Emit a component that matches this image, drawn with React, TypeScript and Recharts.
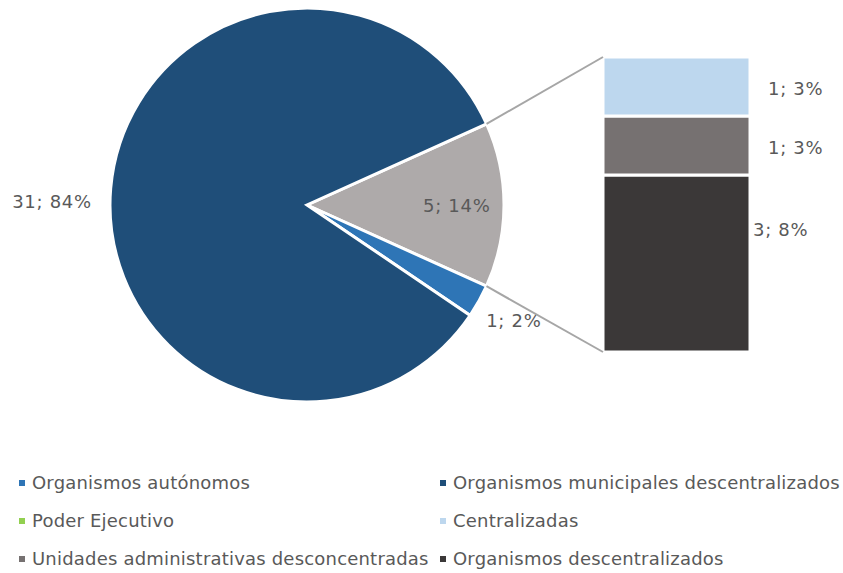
import React from 'react';
import { PieChart, Pie, Cell, BarChart, Bar, XAxis, YAxis, LabelList } from 'recharts';

// Pie (main) data
const pieNames = ['Otros', 'Organismos autónomos', 'Organismos municipales descentralizados'];
const pieValues = [5, 1, 31];
const pieLabels = ['5; 14%', '1; 2%', '31; 84%'];
const pieColors = ['#AEAAAA', '#2E75B6', '#1F4E79'];

// Bar (breakdown of "Otros") data, bottom to top
const barNames = ['Organismos descentralizados', 'Unidades administrativas desconcentradas', 'Centralizadas'];
const barValues = [3, 1, 1];
const barLabels = ['3; 8%', '1; 3%', '1; 3%'];
const barColors = ['#3B3838', '#767171', '#BDD7EE'];

// Legend
const legendNames = [
  'Organismos autónomos',
  'Organismos municipales descentralizados',
  'Poder Ejecutivo',
  'Centralizadas',
  'Unidades administrativas desconcentradas',
  'Organismos descentralizados',
];
const legendColors = ['#2E75B6', '#1F4E79', '#92D050', '#BDD7EE', '#767171', '#3B3838'];

const W = 843;
const CH = 430;
const CX = 307;
const CY = 205;
const R = 197;
const START = 24.3;
const FONT = "'DejaVu Sans', Verdana, sans-serif";
const TXT = '#595959';
const RAD = Math.PI / 180;
const FS = 18;
const LS = 0.7;

const pieData = pieNames.map((n, i) => ({ name: n, value: pieValues[i], label: pieLabels[i] }));
const barRow: Record<string, any> = { name: 'Otros' };
barNames.forEach((n, i) => { barRow['v' + i] = barValues[i]; });
const barData = [barRow];

const total = pieValues.reduce((a, b) => a + b, 0);
const otherSweep = (pieValues[0] / total) * 360;

const piePoint = (angle: number) => ({
  x: CX + R * Math.cos(angle * RAD),
  y: CY - R * Math.sin(angle * RAD),
});

const renderPieLabel = (p: any) => {
  const { cx, cy, midAngle, outerRadius, index } = p;
  const c = Math.cos(midAngle * RAD);
  const s = Math.sin(midAngle * RAD);
  let x: number, y: number, anchor: any = 'middle';
  if (index === 0) {
    x = cx + outerRadius * 0.76 * c;
    y = cy - outerRadius * 0.76 * s;
  } else if (Math.abs(c) > 0.9) {
    x = cx + (outerRadius + 19) * c;
    y = cy - 4;
    anchor = c < 0 ? 'end' : 'start';
  } else {
    x = cx + (outerRadius + 40) * c;
    y = cy - (outerRadius + 40) * s;
  }
  return (
    <text x={x} y={y} textAnchor={anchor} dominantBaseline="central" fill={TXT} fontSize={FS} letterSpacing={LS} fontFamily={FONT}>
      {pieData[index].label}
    </text>
  );
};

const makeShape = (i: number) => (props: any) => {
  const { x, y, width, height, fill } = props;
  let line = null;
  if (i === barNames.length - 1) {
    const p = piePoint(START);
    line = <line x1={p.x} y1={p.y} x2={x} y2={y} stroke="#A6A6A6" strokeWidth={2} />;
  } else if (i === 0) {
    const p = piePoint(START - otherSweep);
    line = <line x1={p.x} y1={p.y} x2={x} y2={y + height} stroke="#A6A6A6" strokeWidth={2} />;
  }
  return (
    <g>
      <rect x={x} y={y} width={width} height={height} fill={fill} stroke="#fff" strokeWidth={3} />
      {line}
    </g>
  );
};

const makeBarLabel = (i: number) => (props: any) => {
  const { x, y, width, height } = props;
  const big = barValues[i] > 1;
  const lx = x + width + (big ? 3 : 18);
  const ly = big ? y + height * 0.31 : y + height / 2 + 2;
  return (
    <text x={lx} y={ly} textAnchor="start" dominantBaseline="central" fill={TXT} fontSize={FS} letterSpacing={LS} fontFamily={FONT}>
      {barLabels[i]}
    </text>
  );
};

export default function App() {
  return (
    <div style={{ position: 'absolute', left: 0, top: 0, width: W, height: 573, background: '#fff', fontFamily: FONT }}>
      <div style={{ position: 'absolute', left: 0, top: 0 }}>
        <PieChart width={W} height={CH} margin={{ top: 0, right: 0, bottom: 0, left: 0 }}>
          <Pie
            data={pieData}
            dataKey="value"
            nameKey="name"
            cx={CX}
            cy={CY}
            outerRadius={R}
            startAngle={START}
            endAngle={START - 360}
            stroke="#fff"
            strokeWidth={3}
            label={renderPieLabel}
            labelLine={false}
            isAnimationActive={false}
          >
            {pieData.map((d, i) => (
              <Cell key={d.name} fill={pieColors[i]} />
            ))}
          </Pie>
        </PieChart>
      </div>
      <div style={{ position: 'absolute', left: 0, top: 0 }}>
        <BarChart width={W} height={CH} data={barData} margin={{ top: 57, right: 93, bottom: 78, left: 603 }} barCategoryGap={0}>
          <XAxis dataKey="name" hide />
          <YAxis hide domain={[0, total - pieValues[1] - pieValues[2]]} />
          {barNames.map((n, i) => (
            <Bar
              key={n}
              dataKey={'v' + i}
              stackId="a"
              fill={barColors[i]}
              shape={makeShape(i)}
              isAnimationActive={false}
            >
              <LabelList dataKey={'v' + i} content={makeBarLabel(i)} />
            </Bar>
          ))}
        </BarChart>
      </div>
      {legendNames.map((n, i) => {
        const col = i % 2;
        const row = Math.floor(i / 2);
        const left = col === 0 ? 19 : 440;
        const top = 472 + row * 38;
        return (
          <div key={n} style={{ position: 'absolute', left, top, height: 22, display: 'flex', alignItems: 'center', whiteSpace: 'nowrap' }}>
            <div style={{ width: 6, height: 6, background: legendColors[i], marginRight: 7 }} />
            <span style={{ fontSize: FS, color: TXT, lineHeight: '22px', letterSpacing: 0.2 }}>{n}</span>
          </div>
        );
      })}
    </div>
  );
}
